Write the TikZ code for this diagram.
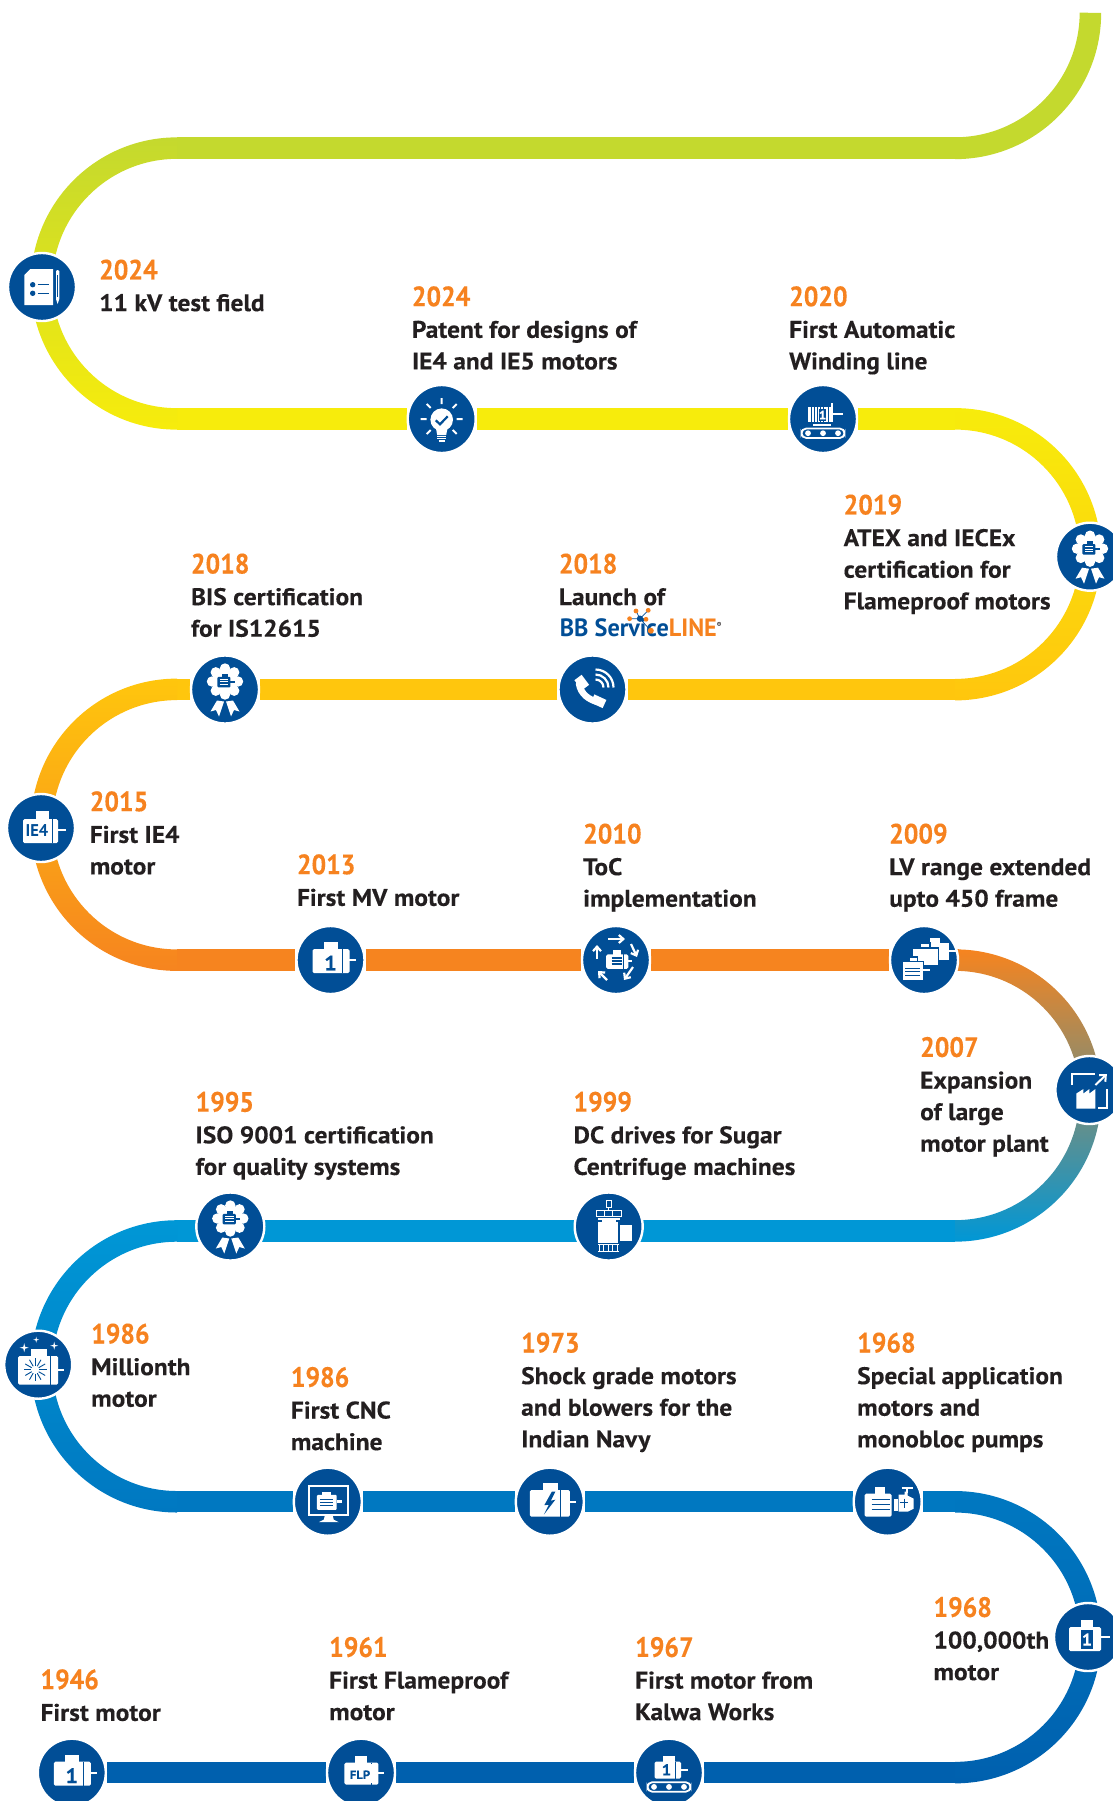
\documentclass[tikz,border=0pt]{standalone}
\usepackage{fontspec}
\setmainfont{PT Sans}[BoldFeatures={FakeStretch=1.06,FakeBold=0.25}]
\newfontfamily\yearfont{PT Sans}[BoldFeatures={FakeStretch=0.92,FakeBold=0.25}]
\newfontfamily\logofont{PT Sans}[BoldFeatures={FakeStretch=0.97}]
\usetikzlibrary{backgrounds,arrows.meta,calc}
\definecolor{iconblue}{HTML}{014E96}
\definecolor{txt}{HTML}{231F20}
\definecolor{yearc}{HTML}{F6821F}
\definecolor{c0}{HTML}{C4D92E}
\definecolor{c1}{HTML}{F7EC0C}
\definecolor{c2}{HTML}{FFC60D}
\definecolor{c3}{HTML}{F6841F}
\definecolor{c4}{HTML}{0097D6}
\definecolor{c5}{HTML}{0078C1}
\definecolor{c6}{HTML}{0060AE}
\tikzset{
  ms/.style={circle,fill=iconblue,draw=white,line width=2.4,minimum size=68,inner sep=0},
  band/.style={line width=21.5,draw=#1},
  lab/.style={anchor=north west,inner sep=0,align=left,text=txt,xshift=-1,font=\bfseries\fontsize{24}{31.6}\selectfont},
  ictext/.style={inner sep=0,text=iconblue,font=\bfseries\fontsize{#1}{#1}\selectfont},
  wl/.style={draw=white,line width=1.8},
  bl/.style={draw=iconblue,line width=1.3},
  arrw/.style={draw=white,line width=2.2,-{Straight Barb[length=4.5,width=8]}}
}
\newcommand{\yr}[1]{{\color{yearc}\yearfont\bfseries\fontsize{28}{31.6}\selectfont #1}}
\newcommand{\halfL}[3]{\shade[top color=#2,bottom color=#3] (177,{#1-146.15}) arc[start angle=270,end angle=90,radius=146.15] -- (177,{#1+124.65}) arc[start angle=90,end angle=270,radius=124.65] -- cycle;}
\newcommand{\halfR}[3]{\shade[top color=#2,bottom color=#3] (955,{#1-146.15}) arc[start angle=-90,end angle=90,radius=146.15] -- (955,{#1+124.65}) arc[start angle=90,end angle=-90,radius=124.65] -- cycle;}
% generic motor, centred on the origin of the current scope
\newcommand{\mymotor}{%
  \fill[white,rounded corners=1.5] (-18,-11) rectangle (19,13);
  \fill[white] (-7,-18) rectangle (7,-10);
  \draw[white,line width=2] (18,0) -- (25,0);
  \draw[iconblue,line width=1] (11.5,-11) -- (11.5,13);
}
\newcommand{\motorlines}{%
  \draw[bl] (-9,-5) -- (9,-5) (-9,0) -- (9,0) (-9,5) -- (9,5);
}
\newcommand{\rosette}{%
  \fill[white] (0,-8) circle (13);
  \foreach \a in {0,45,...,315} \fill[white] ($(0,-8)+(\a:13)$) circle (5.2);
  \begin{scope}[shift={(0,-8)},scale=.42]\fill[iconblue,rounded corners=1] (-18,-11) rectangle (13,14); \fill[iconblue] (-7,-18) rectangle (7,-10); \draw[iconblue,line width=2] (12,0) -- (23,0); \draw[white,line width=1] (-12,-5) -- (8,-5) (-12,1) -- (8,1) (-12,7) -- (8,7);\end{scope}
  \fill[white] (-1,12) -- (-8,11) -- (-14.5,22) -- (-9,20.5) -- (-6,27) -- cycle;
  \fill[white] (1,12) -- (8,11) -- (14.5,22) -- (9,20.5) -- (6,27) -- cycle;
}
\newcommand{\convey}{%
  \draw[white,line width=1.8,rounded corners=4.8] (-21.5,9.5) rectangle (21.5,19);
  \foreach \x in {-15,0,15} \fill[white] (\x,14.2) circle (2.9);
}
\begin{document}
\begin{tikzpicture}[x=1pt,y=-1pt]
\path[use as bounding box] (0,0) rectangle (1113,1801);
% junction points of straight bands and curves
\coordinate (r0L) at (177,148); \coordinate (r0R) at (955,148);
\coordinate (r1L) at (177,419); \coordinate (r1R) at (955,419);
\coordinate (r2L) at (177,689.5); \coordinate (r2R) at (955,689.5);
\coordinate (r3L) at (177,960); \coordinate (r3R) at (955,960);
\coordinate (r4L) at (177,1231); \coordinate (r4R) at (955,1231);
\coordinate (r5L) at (177,1501.7); \coordinate (r5R) at (955,1501.7);
\coordinate (r6R) at (955,1772.7);
% milestones
\node[ms] (a2024t) at (42,287) {};
\node[ms] (a2024p) at (441.7,419) {};
\node[ms] (a2020) at (823,419) {};
\node[ms] (a2019) at (1090,556.7) {};
\node[ms] (a2018s) at (592.5,689.5) {};
\node[ms] (a2018b) at (225,689.5) {};
\node[ms] (a2015) at (41,828) {};
\node[ms] (a2013) at (330.5,960) {};
\node[ms] (a2010) at (616,960) {};
\node[ms] (a2009) at (924,960) {};
\node[ms] (a2007) at (1089.4,1090) {};
\node[ms] (a1999) at (608.7,1226.5) {};
\node[ms] (a1995) at (230.3,1226.5) {};
\node[ms] (a1986m) at (38.2,1364.7) {};
\node[ms] (a1986c) at (327.8,1501.7) {};
\node[ms] (a1973) at (549.8,1501.7) {};
\node[ms] (a1968s) at (887.7,1501.7) {};
\node[ms] (a1968h) at (1088,1637) {};
\node[ms] (a1946) at (71.8,1772.7) {};
\node[ms] (a1961) at (361,1772.7) {};
\node[ms] (a1967) at (669,1772.7) {};
% bands
\begin{scope}[on background layer]
\draw[band=c0] (r0L) -- (r0R);
\fill[c0] (955,{148-10.75}) arc[start angle=90,end angle=0,radius=124.65] -- (1090.4+10.75,13) arc[start angle=0,end angle=90,radius=146.15] -- cycle;
\draw[band=c1] (r1L) -- (a2024p) -- (a2020) -- (r1R);
\draw[band=c2] (r2R) -- (a2018s) -- (a2018b) -- (r2L);
\draw[band=c3] (r3L) -- (a2013) -- (a2010) -- (a2009) -- (r3R);
\draw[band=c4] (r4R) -- (r4L);
\draw[band=c5] (r5L) -- (a1986c) -- (a1973) -- (a1968s) -- (r5R);
\draw[band=c6] (a1946) -- (a1961) -- (a1967) -- (r6R);
\halfL{283.5}{c0}{c1}
\halfR{554.25}{c1}{c2}
\halfL{824.75}{c2}{c3}
\halfR{1095.5}{c3}{c4}
\halfL{1366.35}{c4}{c5}
\halfR{1637.2}{c5}{c6}
\end{scope}
% texts
\node[lab] (t1) at (100,259.3) {\yr{2024}\\11 kV test field};
\node[lab] (t2) at (412.7,286) {\yr{2024}\\Patent for designs of\\IE4 and IE5 motors};
\node[lab] (t3) at (790,286) {\yr{2020}\\First Automatic\\Winding line};
\node[lab] (t4) at (844.5,494.3) {\yr{2019}\\ATEX and IECEx\\certification for\\Flameproof motors};
\node[lab] (t5) at (191.8,553.3) {\yr{2018}\\BIS certification\\for IS12615};
\node[lab] (t6) at (559.7,553.3) {\yr{2018}\\Launch of};
\node[lab] (t7) at (90.6,791) {\yr{2015}\\First IE4\\motor};
\node[lab] (t8) at (297.8,854) {\yr{2013}\\First MV motor};
\node[lab] (t9) at (584,823.3) {\yr{2010}\\ToC\\implementation};
\node[lab] (t10) at (890,823.3) {\yr{2009}\\LV range extended\\upto 450 frame};
\node[lab] (t11) at (921,1036.7) {\yr{2007}\\Expansion\\of large\\motor plant};
\node[lab] (t12) at (196.4,1091.5) {\yr{1995}\\ISO 9001 certification\\for quality systems};
\node[lab] (t13) at (574.3,1091.5) {\yr{1999}\\DC drives for Sugar\\Centrifuge machines};
\node[lab] (t14) at (92,1323.3) {\yr{1986}\\Millionth\\motor};
\node[lab] (t15) at (291.7,1366.7) {\yr{1986}\\First CNC\\machine};
\node[lab] (t16) at (522,1332.3) {\yr{1973}\\Shock grade motors\\and blowers for the\\Indian Navy};
\node[lab] (t17) at (858,1332.3) {\yr{1968}\\Special application\\motors and\\monobloc pumps};
\node[lab] (t18) at (934.3,1596.7) {\yr{1968}\\100,000th\\motor};
\node[lab] (t19) at (41.3,1669) {\yr{1946}\\First motor};
\node[lab] (t20) at (330,1636.7) {\yr{1961}\\First Flameproof\\motor};
\node[lab] (t21) at (636,1636.7) {\yr{1967}\\First motor from\\Kalwa Works};
% logo
\node[anchor=base west,inner sep=0,font=\logofont\bfseries\fontsize{25}{25}\selectfont] (logo) at (559.7,636.7) {\color{iconblue}BB Service\color{yearc}LINE\raisebox{9pt}{\color{txt}\fontsize{7}{7}\selectfont ®}};
\draw[iconblue,line width=.7] (640,618.7) -- (636,611) (640,618.7) -- (648.2,610.3) (640,618.7) -- (629.6,618.7) (640,618.7) -- (646,619.3) (640,618.7) -- (650.8,630.7);
\fill[yearc] (636,611) circle (2.4) (648.2,610.3) circle (2.4) (629.6,618.7) circle (2.4) (646,619.3) circle (2.4) (650.8,630.7) circle (3);
\fill[iconblue] (640,618.7) circle (3.2);
% icons
\begin{scope}[shift={(a2024t.center)}]
 \fill[white] (-11.5,-18) -- (11,-18) -- (11,18) -- (-17.7,18) -- (-17.7,-12) -- cycle;
 \fill[iconblue] (-9.3,-2.3) circle (2.7) (-9.3,6.3) circle (2.7);
 \draw[bl] (-4.3,-2.3) -- (6.7,-2.3) (-4.3,6.3) -- (6.7,6.3);
 \fill[white] (14,-16) -- (15.6,-17) -- (17.3,-16) -- (17.3,12) -- (15.6,17) -- (14,12) -- cycle;
 \draw[iconblue,line width=.6] (15.6,-12) -- (15.6,10);
\end{scope}
\begin{scope}[shift={(a2024p.center)}]
 \fill[white] (0,0.7) circle (11.3);
 \fill[white] (-6,8) -- (6,8) -- (4.5,16) -- (-4.5,16) -- cycle;
 \draw[white,line width=1.2] (-4.5,17.5) -- (4.5,17.5) (-4.5,19.8) -- (4.5,19.8) (-3,22) -- (3,22);
 \draw[iconblue,line width=2.2] (-6,1.3) -- (-1.7,5.3) -- (6,-2.7);
 \draw[white,line width=2] (0,-21) -- (0,-15) (-21,0) -- (-15,0) (21,0) -- (15,0) (-15,-15) -- (-11,-11) (15,-15) -- (11,-11) (-15,15) -- (-11,11) (15,15) -- (11,11);
\end{scope}
\begin{scope}[shift={(a2020.center)}]
 \fill[white] (-15,-12) rectangle (9,3);
 \foreach \x in {-12,-9,-6,-3,0,5} \draw[iconblue,line width=.8] (\x,-12) -- (\x,3);
 \fill[iconblue] (-4,-10) rectangle (3,2);
 \node[ictext=12,text=white] (n1a) at (-0.5,-4) {1};
 \draw[white,line width=1.5] (9,-16) -- (9,3) (9,-5) -- (20,-5);
 \fill[white] (-10,4.5) rectangle (8,7);
 \convey
\end{scope}
\begin{scope}[shift={(a2019.center)}]\rosette\end{scope}
\begin{scope}[shift={(a2018b.center)}]\rosette\end{scope}
\begin{scope}[shift={(a1995.center)}]\rosette\end{scope}
\begin{scope}[shift={(a2018s.center)}]
 \draw[white,line width=6.5,line cap=round] (-13.5,-6) .. controls (-12,4) and (-4,11) .. (8,13);
 \draw[white,line width=9] (-14.5,-12) -- (-7,-2) (0,9) -- (12,14.5);
 \draw[white,line width=2.2] (3,-10) arc[start angle=-90,end angle=0,radius=8] (3,-15) arc[start angle=-90,end angle=0,radius=13] (3,-20) arc[start angle=-90,end angle=0,radius=18];
\end{scope}
\begin{scope}[shift={(a2015.center)}]
 \fill[white,rounded corners=1.5] (-18,-9) rectangle (17,15);
 \fill[white] (-5,-17) rectangle (8,-8);
 \draw[white,line width=2] (17,2) -- (25,2);
 \draw[iconblue,line width=1] (11,-9) -- (11,15);
 \node[ictext=17,font=\logofont\bfseries\fontsize{17}{17}\selectfont] (nIE4) at (-4,2) {IE4};
\end{scope}
\begin{scope}[shift={(a2013.center)}]\mymotor
 \node[ictext=21] (n1b) at (0,3) {1};\end{scope}
\begin{scope}[shift={(a2010.center)}]
 \begin{scope}[shift={(1,1)},scale=.6]\mymotor\motorlines\end{scope}
 \draw[arrw] (-8,-21) -- (9,-21);
 \draw[arrw] (15,-16) -- (21,-3);
 \draw[arrw] (17,7) -- (8,20);
 \draw[arrw] (-9,20) -- (-18,11);
 \draw[arrw] (-19,-1) -- (-19,-15);
\end{scope}
\begin{scope}[shift={(a2009.center)}]
 \begin{scope}[shift={(11,-9)},scale=.72]\fill[white] (-18,-11) rectangle (19,13); \fill[white] (-7,-18) rectangle (7,-10); \draw[white,line width=2.5] (18,0) -- (31,0);\end{scope}
 \begin{scope}[shift={(1,-4)},scale=.72]\fill[white,draw=iconblue,line width=1.2] (-18,-11) rectangle (19,13); \fill[white,draw=iconblue,line width=1.2] (-7,-18) rectangle (7,-11); \draw[white,line width=2.5] (19,0) -- (27,0);\end{scope}
 \begin{scope}[shift={(-11,10)},scale=.65]\fill[white,draw=iconblue,line width=1.2] (-16,-13) rectangle (16,17); \fill[white,draw=iconblue,line width=1.2] (-5,-20) rectangle (7,-13); \draw[white,line width=2.5] (16,0) -- (26,0); \draw[iconblue,line width=1] (-12,-3) -- (10,-3) (-12,3) -- (10,3) (-12,9) -- (10,9);\end{scope}
\end{scope}
\begin{scope}[shift={(a2007.center)}]
 \draw[white,line width=2] (-17.5,-5) -- (-17.5,-16) -- (6,-16);
 \draw[white,line width=2] (18,-1) -- (18,18) -- (9,18);
 \draw[white,line width=2,-{Straight Barb[length=5,width=9]}] (6,-5) -- (17.5,-16);
 \fill[white] (-13,18.5) -- (-13,3.5) -- (-6,-1) -- (-6,3.5) -- (0,-1) -- (0,3.5) -- (6,-1) -- (6,18.5) -- cycle;
\end{scope}
\begin{scope}[shift={(a1999.center)}]
 \fill[white] (-10.4,-5) rectangle (9.5,16);
 \fill[white] (10.8,-1.7) rectangle (22.8,14);
 \draw[white,line width=1] (-12,-16) rectangle (12.4,-10);
 \draw[white,line width=1] (-4,-16) -- (-4,-10) (4,-16) -- (4,-10);
 \fill[white] (-11,-9) rectangle (11,-7);
 \fill[white] (-7,-7) rectangle (7,-5);
 \draw[white,line width=1] (-2.5,-26) rectangle (2.5,-19);
 \draw[white,line width=1] (0,-19) -- (0,-16);
 \draw[white,line width=1] (-10.5,18) -- (10.5,18) (-10.5,25) -- (10.5,25) (-9,18) -- (-9,25) (-5,18) -- (-5,25) (0,18) -- (0,25) (4,18) -- (4,25) (9,18) -- (9,25);
\end{scope}
\begin{scope}[shift={(a1986m.center)}]
 \fill[white,rounded corners=1.5] (-20,-8.7) rectangle (20,20);
 \fill[white] (-7,-15.7) rectangle (9,-8);
 \draw[white,line width=2] (20,5) -- (26,5);
 \draw[iconblue,line width=1] (12,-8.7) -- (12,20);
 \foreach \a in {0,30,...,330} \draw[iconblue,line width=.9] ($(-3,5)+(\a:4)$) -- ($(-3,5)+(\a:11.5)$);
 \foreach \x/\y/\s in {-14/-17/4.5,-2/-25/3,16/-19/4} \fill[white] (\x,\y-\s) -- (\x+.2*\s,\y-.2*\s) -- (\x+\s,\y) -- (\x+.2*\s,\y+.2*\s) -- (\x,\y+\s) -- (\x-.2*\s,\y+.2*\s) -- (\x-\s,\y) -- (\x-.2*\s,\y-.2*\s) -- cycle;
\end{scope}
\begin{scope}[shift={(a1986c.center)}]
 \draw[white,line width=2] (-18.7,-15.7) rectangle (20,13);
 \begin{scope}[shift={(-1,0)},scale=.62]\fill[white,rounded corners=1] (-16,-11) rectangle (16,13); \fill[white] (-7,-16) rectangle (7,-10); \draw[white,line width=2.5] (16,0) -- (24,0); \draw[iconblue,line width=1.1] (-11,-4) -- (10,-4) (-11,1) -- (10,1) (-11,6) -- (10,6);\end{scope}
 \fill[white] (-3,14) -- (5,14) -- (6,18) -- (11,20.5) -- (-9,20.5) -- (-4,18) -- cycle;
\end{scope}
\begin{scope}[shift={(a1973.center)}]
 \fill[white,rounded corners=1.5] (-20,-11.7) rectangle (20,15);
 \fill[white] (-7,-19) rectangle (8,-11);
 \draw[white,line width=2] (19,0) -- (26,0);
 \draw[iconblue,line width=1] (11,-11.7) -- (11,15);
 \fill[iconblue] (2,-10) -- (-5.5,3.5) -- (-1,3) -- (-6,13) -- (5.5,-2) -- (1,-1) -- (5.5,-10) -- cycle;
\end{scope}
\begin{scope}[shift={(a1968s.center)}]
 \fill[white,rounded corners=1.5] (-23,-8) rectangle (4,15);
 \fill[white] (-13,-15) rectangle (-3,-7);
 \draw[iconblue,line width=1.3] (-16,-2) -- (2,-2) (-16,3) -- (2,3) (-16,8) -- (2,8);
 \fill[white] (6,-3) rectangle (10,9);
 \fill[white] (11,-7) -- (17,-7) -- (17,-10) -- (20,-10) -- (20,-6) -- (26,-3) -- (26,7) -- (20,10) -- (11,10) -- cycle;
 \draw[white,line width=2] (14,-13.5) -- (25,-13.5) (19.5,-13.5) -- (19.5,-9);
 \draw[iconblue,line width=1] (12,1) -- (20,1) (17,-3) -- (17,6);
\end{scope}
\begin{scope}[shift={(a1968h.center)}]
 \fill[white,rounded corners=1.5] (-19,-10) rectangle (13,14);
 \fill[white] (-7,-17.5) rectangle (5,-9);
 \fill[iconblue] (-7,-7.3) rectangle (5,11.7);
 \node[ictext=17,text=white] (n1c) at (-1,2.5) {1};
 \draw[white,line width=2] (13,0) -- (22,0);
\end{scope}
\begin{scope}[shift={(a1946.center)}]\mymotor
 \node[ictext=21] (n1d) at (0,3) {1};\end{scope}
\begin{scope}[shift={(a1961.center)}]
 \begin{scope}[scale=.92]\mymotor\end{scope}
 \fill[white] (8,-9) rectangle (13,10);
 \node[ictext=12] (nFLP) at (-1,2) {FLP};
\end{scope}
\begin{scope}[shift={(a1967.center)}]
 \fill[white,rounded corners=1.5] (-14.5,-11) rectangle (12,6);
 \fill[white] (-6,-17) rectangle (6,-10);
 \draw[white,line width=2] (12,-3) -- (19,-3);
 \draw[iconblue,line width=1] (6.5,-11) -- (6.5,6);
 \node[ictext=16] (n1e) at (-2.5,-3) {1};
 \convey
\end{scope}
\end{tikzpicture}
\end{document}
